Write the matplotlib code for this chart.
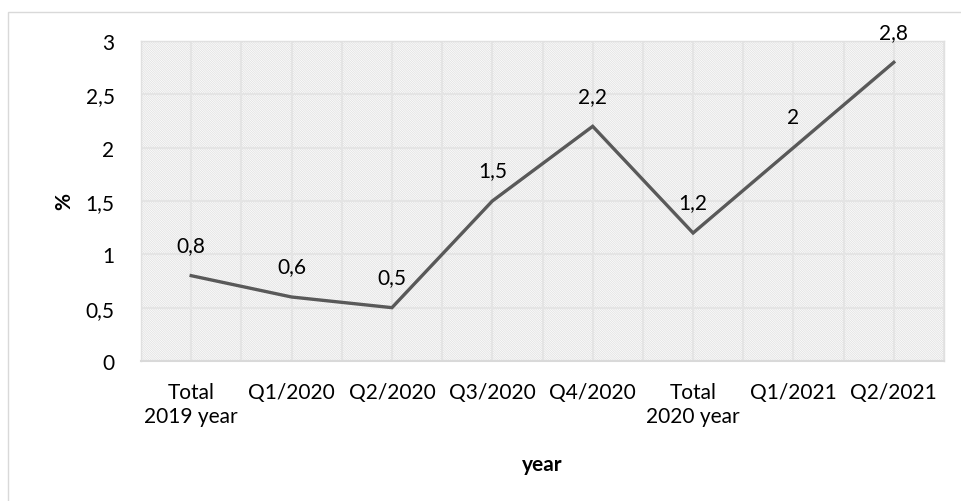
import matplotlib
matplotlib.use("Agg")
import matplotlib.pyplot as plt
from matplotlib.patches import Rectangle
from matplotlib.ticker import FuncFormatter, MultipleLocator

categories = ["Total\n2019 year", "Q1/2020", "Q2/2020", "Q3/2020", "Q4/2020",
              "Total\n2020 year", "Q1/2021", "Q2/2021"]
values = [0.8, 0.6, 0.5, 1.5, 2.2, 1.2, 2.0, 2.8]
y_ticks = [0, 0.5, 1, 1.5, 2, 2.5, 3]


def comma(v):
    s = f"{v:g}"
    return s.replace(".", ",")


plt.rcParams["font.family"] = ["Lato", "DejaVu Sans"]
plt.rcParams["hatch.color"] = "#e1e1e1"
plt.rcParams["hatch.linewidth"] = 0.6

W, H = 962, 502
fig = plt.figure(figsize=(W / 100, H / 100), dpi=100)

# outer chart frame
fig.patches.append(Rectangle((8 / W, -0.1), 1.2, (H - 13) / H + 0.1,
                             transform=fig.transFigure, fill=False,
                             edgecolor="#d9d9d9", lw=1.0))

left, right, top, bottom = 141, 944, 42, 362
ax = fig.add_axes([left / W, 1 - bottom / H, (right - left) / W, (bottom - top) / H])

x = list(range(len(categories)))
ax.set_xlim(-0.5, len(categories) - 0.5)
ax.set_ylim(0, 3)

# hatched plot-area background
ax.add_patch(Rectangle((0, 0), 1, 1, transform=ax.transAxes, facecolor="white",
                       edgecolor="#e1e1e1", hatch="\\" * 15, lw=0, zorder=0))

ax.set_yticks(y_ticks)
ax.yaxis.set_major_formatter(FuncFormatter(lambda v, p: comma(v)))
ax.set_xticks(x)
ax.set_xticklabels(categories)
ax.xaxis.set_minor_locator(MultipleLocator(0.5))
ax.grid(True, which="both", axis="x", color="#e4e4e4", lw=1.5, zorder=1)
ax.grid(True, which="major", axis="y", color="#e4e4e4", lw=1.5, zorder=1)
ax.set_axisbelow(True)
ax.tick_params(which="both", length=0)
ax.tick_params(axis="y", labelsize=15, pad=19)
ax.tick_params(axis="x", labelsize=15, pad=15)
for lab in ax.get_xticklabels():
    lab.set_linespacing(1.25)

for s in ax.spines.values():
    s.set_color("#e0e0e0")
    s.set_linewidth(1.0)
ax.spines["bottom"].set_color("#d9d9d9")
ax.spines["bottom"].set_linewidth(1.5)

ax.plot(x, values, color="#595959", lw=2.4, zorder=3, solid_joinstyle="miter")
for xi, v in zip(x, values):
    ax.annotate(comma(v), (xi, v), xytext=(0, 22), textcoords="offset points",
                ha="center", va="center", fontsize=15, color="#000000", zorder=4)

ax.set_xlabel("year", fontsize=15, fontweight="bold", labelpad=20)
ax.set_ylabel("%", fontsize=15, fontweight="bold", labelpad=8)

fig.savefig("out.png", dpi=100)
